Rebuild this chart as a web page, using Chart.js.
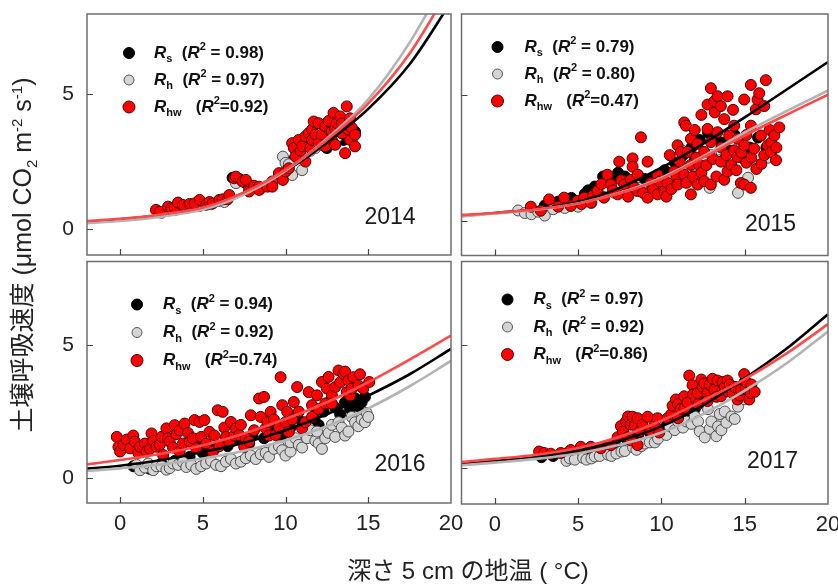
<!DOCTYPE html>
<html lang="ja">
<head>
<meta charset="utf-8">
<title>土壌呼吸速度と地温</title>
<script src="https://cdn.jsdelivr.net/npm/chart.js@4.4.1/dist/chart.umd.min.js"></script>
<style>
  html, body { margin: 0; padding: 0; background: #fff; }
  #figure { position: relative; width: 838px; height: 584px; overflow: hidden; background: #fff; }
  .panel { position: absolute; }
  .txt { font-family: "Liberation Sans", Arial, "Noto Sans CJK JP", sans-serif; color: #222; position: absolute; white-space: nowrap; }
  #yTitle { left: -188px; top: 241px; width: 420px; height: 28px; line-height: 28px; text-align: center; transform: rotate(-90deg); font-size: 25px; }
  #xTitle { left: 268px; top: 551px; width: 400px; text-align: center; font-size: 24px; }
  sub, sup { font-size: 15px; line-height: 0; }
</style>
</head>
<body>
<div id="figure">
  <div class="panel" style="left:0;top:0;width:470px;height:262px"><canvas id="p2014" width="470" height="262"></canvas></div>
  <div class="panel" style="left:455px;top:0;width:383px;height:262px"><canvas id="p2015" width="383" height="262"></canvas></div>
  <div class="panel" style="left:0;top:255px;width:470px;height:329px"><canvas id="p2016" width="470" height="329"></canvas></div>
  <div class="panel" style="left:455px;top:255px;width:383px;height:329px"><canvas id="p2017" width="383" height="329"></canvas></div>
  <div class="txt" id="yTitle">土壌呼吸速度 (μmol CO<sub>2</sub> m<sup>-2</sup> s<sup>-1</sup>)</div>
  <div class="txt" id="xTitle">深さ 5 cm の地温 ( °C)</div>
</div>
<script>
// --- axis ticks ---
const xTicks = [0, 5, 10, 15, 20];
const yTicks = [0, 5];

// --- fitted curves, sampled along soil temperature ---
const fitT = [-2, 0, 2.5, 5, 7.5, 10, 12.5, 15, 17.5, 20];

const fitRs2014 = [0.27, 0.36, 0.52, 0.8, 1.35, 2.15, 3.2, 4.45, 6.1, 8.4];
const fitRh2014 = [0.22, 0.3, 0.46, 0.72, 1.28, 2.15, 3.35, 4.8, 6.9, 9.6];
const fitRhw2014 = [0.3, 0.38, 0.54, 0.8, 1.36, 2.2, 3.3, 4.65, 6.5, 9.0];

const fitRs2015 = [0.18, 0.3, 0.46, 0.75, 1.3, 2.1, 3.05, 4.1, 5.2, 6.3];
const fitRh2015 = [0.16, 0.28, 0.43, 0.68, 1.1, 1.7, 2.55, 3.5, 4.35, 5.17];
const fitRhw2015 = [0.22, 0.3, 0.45, 0.68, 1.08, 1.65, 2.5, 3.38, 4.2, 5.0];

const fitRs2016 = [0.36, 0.47, 0.68, 0.98, 1.33, 1.8, 2.4, 3.1, 3.9, 4.85];
const fitRh2016 = [0.27, 0.37, 0.52, 0.74, 1.03, 1.42, 1.95, 2.62, 3.45, 4.4];
const fitRhw2016 = [0.52, 0.68, 0.92, 1.24, 1.68, 2.22, 2.85, 3.6, 4.45, 5.35];

const fitRs2017 = [0.17, 0.3, 0.46, 0.72, 1.12, 1.7, 2.55, 3.65, 4.85, 6.25];
const fitRh2017 = [0.12, 0.23, 0.38, 0.6, 0.95, 1.45, 2.2, 3.15, 4.25, 5.55];
const fitRhw2017 = [0.25, 0.38, 0.55, 0.82, 1.28, 1.93, 2.75, 3.62, 4.65, 5.85];

// --- R² of each fit: Rs, Rh, Rhw ---
const r2_2014 = ['0.98', '0.97', '0.92'];
const r2_2015 = ['0.79', '0.80', '0.47'];
const r2_2016 = ['0.94', '0.92', '0.74'];
const r2_2017 = ['0.97', '0.92', '0.86'];

// --- measurements [temperature, flux] ---
const rs2014 = [[2.3,0.65],[3,0.72],[3.8,0.8],[4.5,0.88],[5.3,0.95],[6,1.05],[6.8,1.9],[7.2,1.85],[7.6,1.7],[8.3,1.5],[9,1.6],[9.8,2.05],[10.3,2.5],[10.8,2.8],[11.4,3.1],[12,3.4],[12.6,3.6],[13.2,3.8],[13.8,3.9],[14.2,3.6],[13.5,3.3],[12.5,3.0]];
const rh2014 = [[2.5,0.6],[3.3,0.7],[4,0.78],[4.8,0.85],[5.5,0.92],[6.3,1.0],[7,1.7],[7.8,1.45],[8.5,1.5],[8.9,1.6],[9.2,1.7],[9.6,2.0],[9.84,2.68],[10,2.45],[10.2,2.4],[10.4,2.0],[10.7,2.65],[11,2.18],[11.2,2.8],[11.5,2.9],[11.8,3.0],[12.2,3.1],[12.5,3.2],[13.1,3.4],[13.6,3.6],[14,3.3]];
const rhw2014 = [[2.17,0.71],[2.4,0.64],[2.9,0.83],[3.1,0.77],[3.3,0.8],[3.5,0.98],[3.8,0.89],[4.2,0.93],[4.5,0.95],[4.8,1.08],[5.2,0.9],[5.4,1.0],[5.6,0.95],[6.0,1.08],[6.2,1.1],[6.5,1.1],[6.6,1.26],[6.9,1.88],[7.0,1.94],[7.4,1.76],[7.6,1.82],[7.8,1.39],[8.1,1.6],[8.4,1.57],[8.4,1.45],[8.9,1.57],[9.2,1.76],[9.2,1.57],[9.6,2.07],[9.84,1.82],[10,2.13],[10.2,2.25],[10.4,3.18],[10.5,3.0],[10.6,2.69],[10.8,3.3],[10.9,2.9],[11,3.06],[11.2,2.5],[11.2,3.43],[11.4,3.55],[11.5,3.0],[11.6,3.68],[11.6,3.3],[11.7,3.98],[11.8,3.5],[12,3.18],[12,3.92],[12.2,3.5],[12.4,3.8],[12.4,3.06],[12.6,4.0],[12.7,3.61],[12.8,3.3],[12.8,3.61],[12.9,4.3],[13,3.12],[13,3.7],[13.1,3.92],[13.3,4.17],[13.4,3.55],[13.4,3.9],[13.6,2.81],[13.7,4.54],[13.8,3.68],[13.9,3.3],[13.9,4.1],[14.0,3.75],[14.2,3.49],[14.2,3.06]];

const rs2015 = [[2.2,0.45],[3,0.6],[3.8,0.75],[4.6,0.9],[5.4,1.05],[5.6,1.2],[6.0,1.35],[6.5,1.75],[7.0,1.6],[7.4,1.9],[7.8,1.75],[8.2,1.5],[8.6,1.8],[9.0,1.65],[9.6,1.7],[10.2,2.0],[10.8,2.3],[11.3,2.6],[11.8,2.9],[12.3,3.2],[12.8,3.5],[13.2,3.3],[13.6,3.1],[14,2.8],[14.4,3.4],[14.8,2.5],[15.3,2.9],[15.8,3.3],[16.3,2.9],[12.0,2.5],[11.0,2.1],[9.4,1.2],[8.0,1.1]];
const rh2015 = [[1.4,0.4],[1.8,0.3],[2.2,0.25],[2.6,0.35],[3.0,0.2],[3.5,0.45],[4.2,0.5],[5,0.55],[5.8,0.7],[6.5,0.95],[7.2,1.1],[8.0,1.0],[8.6,1.3],[9.3,1.15],[10.0,1.4],[10.6,1.7],[11.2,2.8],[11.7,2.0],[12.3,1.8],[12.9,1.3],[13.0,2.6],[13.5,2.4],[14.1,2.1],[14.6,1.1],[15.2,1.7],[15.8,2.2],[16.4,2.5]];
const rhw2015 = [[2.16,0.55],[2.76,0.39],[3.26,0.84],[3.8,0.55],[4.16,0.91],[4.56,0.58],[4.96,0.78],[5.2,0.65],[5.36,0.91],[5.76,0.71],[5.9,1.0],[6.16,1.17],[6.4,1.45],[6.56,0.91],[6.76,1.82],[6.97,1.43],[7.1,1.2],[7.37,1.04],[7.47,2.34],[7.6,1.6],[7.77,1.43],[8.0,0.95],[8.17,1.62],[8.27,2.47],[8.27,2.14],[8.4,1.3],[8.57,1.17],[8.57,1.82],[8.77,3.31],[8.9,1.1],[9.17,2.34],[9.17,0.91],[9.37,1.49],[9.5,1.25],[9.77,1.04],[9.77,1.82],[9.9,1.55],[10.17,1.17],[10.3,0.95],[10.37,1.49],[10.5,2.6],[10.6,1.25],[10.77,1.95],[10.9,1.75],[10.97,2.99],[10.97,1.43],[11.1,2.35],[11.17,2.73],[11.37,3.9],[11.37,1.82],[11.47,3.77],[11.5,1.5],[11.57,2.73],[11.77,3.25],[11.77,2.21],[11.77,1.04],[11.9,1.75],[12.0,3.6],[12.1,2.5],[12.17,3.05],[12.17,1.43],[12.27,2.21],[12.4,1.9],[12.4,4.2],[12.57,1.56],[12.57,2.73],[12.7,2.2],[12.77,3.64],[12.77,4.61],[12.97,5.26],[12.97,1.43],[12.97,3.12],[13.1,2.45],[13.17,4.74],[13.2,4.3],[13.3,1.75],[13.37,4.94],[13.37,3.51],[13.57,4.55],[13.57,2.34],[13.6,2.9],[13.77,4.03],[13.77,1.62],[13.9,2.6],[13.97,4.94],[13.97,1.95],[14.07,3.38],[14.2,2.2],[14.3,4.4],[14.37,2.79],[14.37,3.77],[14.5,2.0],[14.57,2.53],[14.57,3.25],[14.77,1.49],[14.8,2.7],[14.97,1.43],[14.97,4.81],[14.97,2.99],[15.1,2.3],[15.1,3.4],[15.37,1.3],[15.37,5.39],[15.37,3.77],[15.4,2.5],[15.57,2.86],[15.67,4.42],[15.7,2.05],[15.77,4.81],[15.87,5.06],[15.97,3.38],[16.0,2.25],[16.17,4.55],[16.17,2.6],[16.27,5.58],[16.38,2.99],[16.5,3.6],[16.58,2.73],[16.6,3.1],[16.78,3.38],[16.88,2.4],[16.9,2.9],[17.08,3.7]];

const rs2016 = [[0.8,0.45],[1.8,0.35],[2.1,0.45],[2.5,0.55],[3.3,0.65],[3.8,0.75],[4.2,0.8],[4.8,1.3],[5,0.95],[5.6,1.0],[5.8,1.15],[6.5,1.2],[6.8,1.4],[7.3,1.45],[7.8,1.3],[8,1.6],[8.7,1.5],[9.0,1.9],[9.5,1.75],[9.8,1.6],[10.3,1.9],[10.7,2.3],[11,2.1],[11.4,1.8],[11.7,2.25],[12.0,2.0],[12.3,2.5],[12.7,2.9],[13,2.65],[13.3,2.4],[13.6,2.85],[13.9,2.6],[14.2,3.0],[14.4,2.7],[14.6,2.85],[14.8,3.05]];
const rh2016 = [[1.0,0.5],[1.2,0.3],[1.5,0.4],[1.7,0.55],[2,0.3],[2.2,0.45],[2.5,0.45],[2.8,0.32],[3,0.38],[3.2,0.55],[3.5,0.5],[3.8,0.6],[4,0.42],[4.3,0.5],[4.6,0.35],[4.9,0.45],[5.2,0.55],[5.5,0.65],[5.8,0.5],[6.1,0.45],[6.4,0.62],[6.7,0.72],[7,0.55],[7.3,0.62],[7.6,0.75],[7.9,0.85],[8.2,0.72],[8.5,0.9],[8.8,0.95],[9.0,0.8],[9.3,1.1],[9.6,1.2],[9.8,1.05],[10.0,0.85],[10.3,1.0],[10.3,1.35],[10.6,1.5],[10.8,1.25],[11.0,1.15],[11.3,1.5],[11.5,1.8],[11.8,1.4],[11.9,1.75],[12.0,1.3],[12.2,1.1],[12.4,1.5],[12.6,1.7],[12.8,2.0],[13,1.55],[13.2,2.1],[13.4,1.9],[13.6,1.6],[13.8,1.75],[14.0,2.3],[14.2,2.1],[14.4,1.95],[14.6,2.2],[14.8,2.1],[14.9,2.45],[15.0,2.3]];
const rhw2016 = [[-0.2,1.55],[-0.1,1.18],[0,1.0],[0.2,1.24],[0.4,1.45],[0.6,1.12],[0.8,1.6],[0.9,1.37],[1.1,0.95],[1.2,1.18],[1.5,1.3],[1.6,1.0],[1.8,1.1],[1.9,1.68],[2.0,1.4],[2.2,1.18],[2.4,1.25],[2.5,1.55],[2.6,0.87],[2.8,1.87],[2.9,1.5],[3.0,1.37],[3.2,1.15],[3.3,1.99],[3.4,1.65],[3.6,1.8],[3.6,1.0],[3.8,1.3],[3.9,2.05],[4.1,1.7],[4.2,1.37],[4.4,1.5],[4.5,2.18],[4.6,1.12],[4.8,2.11],[4.9,1.55],[5.1,2.18],[5.2,1.3],[5.4,1.74],[5.6,1.0],[5.7,1.6],[5.9,2.55],[6.0,1.2],[6.2,2.49],[6.3,1.9],[6.4,1.55],[6.6,1.37],[6.7,2.11],[6.9,1.6],[7.0,1.87],[7.2,1.62],[7.3,2.0],[7.5,1.18],[7.6,1.5],[7.8,1.37],[7.9,2.36],[8.1,1.8],[8.4,2.99],[8.5,2.3],[8.7,3.05],[8.8,1.87],[8.9,2.11],[9.0,1.6],[9.1,2.49],[9.3,2.2],[9.4,1.62],[9.6,1.9],[9.7,3.79],[9.8,2.74],[10.0,2.1],[10.1,2.49],[10.2,1.74],[10.4,2.2],[10.5,2.86],[10.7,3.42],[10.8,2.5],[11.0,1.87],[11.2,2.1],[11.4,3.23],[11.6,2.74],[11.6,2.3],[11.9,3.11],[12.0,2.6],[12.2,3.61],[12.4,2.8],[12.5,3.36],[12.6,3.8],[12.8,3.11],[12.8,2.8],[13.0,3.42],[13.2,4.04],[13.3,3.6],[13.5,3.92],[13.6,4.0],[13.7,3.23],[13.8,3.67],[13.9,3.1],[14.0,3.36],[14.1,3.79],[14.4,3.48],[14.5,3.9],[14.7,3.36],[15.06,3.61]];

const rs2017 = [[2.8,0.45],[3.5,0.5],[4.3,0.6],[5,0.7],[5.8,0.75],[6.5,0.85],[7.2,1.0],[7.9,1.2],[8.6,1.35],[9.3,1.45],[10.0,1.55],[10.3,1.7],[10.4,1.75],[10.8,1.95],[11.4,2.2],[12,2.4],[12.6,2.7],[13.2,2.95],[13.8,3.15],[14.4,3.3],[15,3.5]];
const rh2017 = [[4.3,0.3],[4.5,0.4],[4.8,0.35],[5.3,0.42],[5.5,0.35],[5.8,0.4],[6.0,0.48],[6.3,0.5],[6.8,0.55],[7.0,0.5],[7.3,0.6],[7.6,0.68],[7.8,0.7],[8.3,0.85],[8.5,0.75],[8.8,0.9],[9.0,1.0],[9.3,1.05],[9.6,1.05],[9.8,1.2],[10.3,1.35],[10.5,1.7],[10.8,1.55],[11.0,1.9],[11.3,1.65],[11.5,1.9],[11.8,1.8],[12.0,2.1],[12.2,1.9],[12.3,1.5],[12.6,1.25],[12.8,2.4],[12.9,1.6],[13,1.9],[13.3,1.3],[13.4,1.7],[13.5,2.2],[13.6,1.55],[13.8,2.3],[13.9,1.85],[14.2,2.1],[14.4,2.0],[14.6,2.5],[15,2.8]];
const rhw2017 = [[2.66,0.68],[2.96,0.62],[3.36,0.59],[3.96,0.62],[4.56,0.74],[5.16,0.87],[5.76,0.87],[6.36,0.81],[6.97,0.94],[7.37,1.26],[7.57,1.71],[7.7,1.5],[7.87,1.9],[7.97,1.26],[8.0,2.1],[8.17,1.77],[8.17,1.13],[8.27,2.09],[8.4,1.75],[8.57,2.03],[8.57,0.94],[8.7,1.5],[8.87,1.77],[9.17,2.09],[9.37,1.51],[9.6,1.75],[9.77,2.03],[9.87,1.45],[10.37,2.03],[10.6,2.2],[10.67,2.54],[10.87,2.79],[11.0,2.03],[11.0,2.6],[11.17,2.41],[11.37,2.92],[11.4,2.45],[11.57,2.67],[11.67,3.76],[11.87,3.37],[11.9,3.0],[12.07,2.79],[12.17,3.05],[12.2,2.6],[12.4,3.6],[12.47,3.31],[12.57,3.44],[12.77,3.05],[12.77,2.73],[12.9,3.4],[13.07,3.63],[13.17,3.18],[13.3,2.9],[13.37,3.56],[13.57,2.92],[13.67,3.5],[13.8,3.3],[13.97,3.56],[13.97,3.12],[14.1,3.4],[14.27,3.05],[14.4,3.3],[14.57,2.79],[14.7,2.95],[14.77,3.18],[14.97,3.82],[15.07,3.24],[15.1,3.5],[15.27,2.79],[15.37,3.05],[15.4,3.4],[15.6,3.1]];

const FONT = '"Liberation Sans", Arial, sans-serif';

// colours
const C_RS = '#000000';
const C_RH_FILL = '#d4d4d4';
const C_RH_LINE = '#b3b3b3';
const C_RHW_FILL = '#ff0000';
const C_RHW_LINE = '#ff4a4a';

function fitLine(values, color, order) {
    return {
        data: fitT.map((t, i) => ({ x: t, y: values[i] })),
        showLine: true,
        borderColor: color,
        borderWidth: 2.6,
        pointRadius: 0,
        cubicInterpolationMode: 'monotone',
        fill: false,
        order: order
    };
}

function pointSet(pairs, fill, stroke, order) {
    return {
        data: pairs.map(([x, y]) => ({ x, y })),
        showLine: false,
        backgroundColor: fill,
        borderColor: stroke,
        borderWidth: 1,
        pointRadius: 5.5,
        order: order
    };
}

// text with sub/superscripts, drawn piece by piece
function drawRich(ctx, x, y, parts) {
    for (const p of parts) {
        const small = p.sub || p.sup;
        const size = small ? 11 : 17;
        ctx.font = `${p.it ? 'italic ' : ''}bold ${size}px ${FONT}`;
        const dy = p.sub ? 6 : (p.sup ? -6 : 0);
        ctx.fillText(p.t, x, y + dy);
        x += ctx.measureText(p.t).width;
    }
}

function dot(ctx, x, y, r, fill, stroke) {
    ctx.beginPath();
    ctx.arc(x, y, r, 0, Math.PI * 2);
    ctx.fillStyle = fill;
    ctx.fill();
    ctx.lineWidth = 1;
    ctx.strokeStyle = stroke;
    ctx.stroke();
}

// frame, inward ticks, legend block and year label
const panelDecor = {
    id: 'panelDecor',
    afterDraw(chart, args, o) {
        const { ctx, chartArea: a } = chart;
        const xs = chart.scales.x, ys = chart.scales.y;
        ctx.save();
        ctx.strokeStyle = '#6e6e6e';
        ctx.lineWidth = 1.5;
        ctx.strokeRect(a.left, a.top, a.right - a.left, a.bottom - a.top);
        ctx.beginPath();
        xTicks.forEach(v => {
            const px = Math.round(xs.getPixelForValue(v)) + 0.5;
            if (px > a.right - 2) return;
            ctx.moveTo(px, a.bottom);
            ctx.lineTo(px, a.bottom - 6);
        });
        yTicks.forEach(v => {
            const py = Math.round(ys.getPixelForValue(v)) + 0.5;
            ctx.moveTo(a.left, py);
            ctx.lineTo(a.left + 6, py);
        });
        ctx.lineWidth = 1.2;
        ctx.strokeStyle = '#444';
        ctx.stroke();

        // legend
        const mx = a.left + o.mx, tx = a.left + o.tx;
        const rows = [a.top + o.y0, a.top + o.y0 + o.gap, a.top + o.y0 + 2 * o.gap];
        dot(ctx, mx, rows[0], 5.5, C_RS, C_RS);
        dot(ctx, mx, rows[1], 5, C_RH_FILL, '#555');
        dot(ctx, mx, rows[2], 6, C_RHW_FILL, '#500');
        ctx.fillStyle = '#111';
        ctx.textBaseline = 'middle';
        ctx.textAlign = 'left';
        drawRich(ctx, tx, rows[0], [{ t: 'R', it: true }, { t: 's', sub: true }, { t: '  (' }, { t: 'R', it: true }, { t: '2', sup: true }, { t: ' = ' + o.r2[0] + ')' }]);
        drawRich(ctx, tx, rows[1], [{ t: 'R', it: true }, { t: 'h', sub: true }, { t: '  (' }, { t: 'R', it: true }, { t: '2', sup: true }, { t: ' = ' + o.r2[1] + ')' }]);
        drawRich(ctx, tx, rows[2], [{ t: 'R', it: true }, { t: 'hw', sub: true }, { t: '   (' }, { t: 'R', it: true }, { t: '2', sup: true }, { t: '=' + o.r2[2] + ')' }]);

        // year
        ctx.font = `23px ${FONT}`;
        ctx.textAlign = 'center';
        ctx.fillStyle = '#1a1a1a';
        ctx.fillText(o.year, a.left + o.yearX, a.top + o.yearY);
        ctx.restore();
    }
};

function makePanel(id, cfg) {
    const ctx = document.getElementById(id).getContext('2d');
    return new Chart(ctx, {
        type: 'scatter',
        data: {
            datasets: [
                fitLine(cfg.fits[2], C_RHW_LINE, 0),
                fitLine(cfg.fits[1], C_RH_LINE, 1),
                fitLine(cfg.fits[0], C_RS, 2),
                pointSet(cfg.points[2], C_RHW_FILL, '#4a0000', 3),
                pointSet(cfg.points[1], C_RH_FILL, '#4d4d4d', 4),
                pointSet(cfg.points[0], C_RS, '#000', 5)
            ]
        },
        options: {
            responsive: false,
            animation: false,
            devicePixelRatio: 1,
            layout: { padding: cfg.padding },
            scales: {
                x: {
                    type: 'linear',
                    min: -2,
                    max: 20,
                    display: cfg.showX,
                    grid: { display: false, drawTicks: false },
                    border: { display: false },
                    afterBuildTicks: s => { s.ticks = xTicks.map(v => ({ value: v })); },
                    afterFit: s => { s.height = cfg.xHeight || 0; s.paddingLeft = 0; s.paddingRight = 0; },
                    ticks: { autoSkip: false, maxRotation: 0, padding: 8, color: '#222', font: { family: FONT, size: 22 } }
                },
                y: {
                    type: 'linear',
                    min: cfg.yMin,
                    max: cfg.yMax,
                    display: cfg.showY,
                    grid: { display: false, drawTicks: false },
                    border: { display: false },
                    afterBuildTicks: s => { s.ticks = yTicks.map(v => ({ value: v })); },
                    afterFit: s => { s.width = cfg.yWidth || 0; s.paddingTop = 0; s.paddingBottom = 0; },
                    ticks: { padding: 13, color: '#222', font: { family: FONT, size: 21 } }
                }
            },
            plugins: {
                legend: { display: false },
                tooltip: { enabled: false },
                panelDecor: cfg.decor
            }
        },
        plugins: [panelDecor]
    });
}

makePanel('p2014', {
    fits: [fitRs2014, fitRh2014, fitRhw2014],
    points: [rs2014, rh2014, rhw2014],
    yMin: -0.96, yMax: 7.96,
    showX: false, showY: true, yWidth: 87,
    padding: { top: 14, right: 19, bottom: 7, left: 0 },
    decor: { mx: 42, tx: 67, y0: 39, gap: 27, r2: r2_2014, year: '2014', yearX: 303, yearY: 204 }
});

makePanel('p2015', {
    fits: [fitRs2015, fitRh2015, fitRhw2015],
    points: [rs2015, rh2015, rhw2015],
    yMin: -1.39, yMax: 8.21,
    showX: false, showY: false,
    padding: { top: 14, right: 10, bottom: 6, left: 6 },
    decor: { mx: 36, tx: 63, y0: 33, gap: 27, r2: r2_2015, year: '2015', yearX: 309, yearY: 211 }
});

makePanel('p2016', {
    fits: [fitRs2016, fitRh2016, fitRhw2016],
    points: [rs2016, rh2016, rhw2016],
    yMin: -0.93, yMax: 8.13,
    showX: true, showY: true, yWidth: 87, xHeight: 81,
    padding: { top: 5, right: 19, bottom: 0, left: 0 },
    decor: { mx: 50, tx: 76, y0: 43, gap: 28, r2: r2_2016, year: '2016', yearX: 313, yearY: 203 }
});

makePanel('p2017', {
    fits: [fitRs2017, fitRh2017, fitRhw2017],
    points: [rs2017, rh2017, rhw2017],
    yMin: -1.45, yMax: 8.39,
    showX: true, showY: false, xHeight: 80,
    padding: { top: 5, right: 10, bottom: 0, left: 6 },
    decor: { mx: 46, tx: 72, y0: 38, gap: 27.5, r2: r2_2017, year: '2017', yearX: 311, yearY: 200 }
});
</script>
</body>
</html>
